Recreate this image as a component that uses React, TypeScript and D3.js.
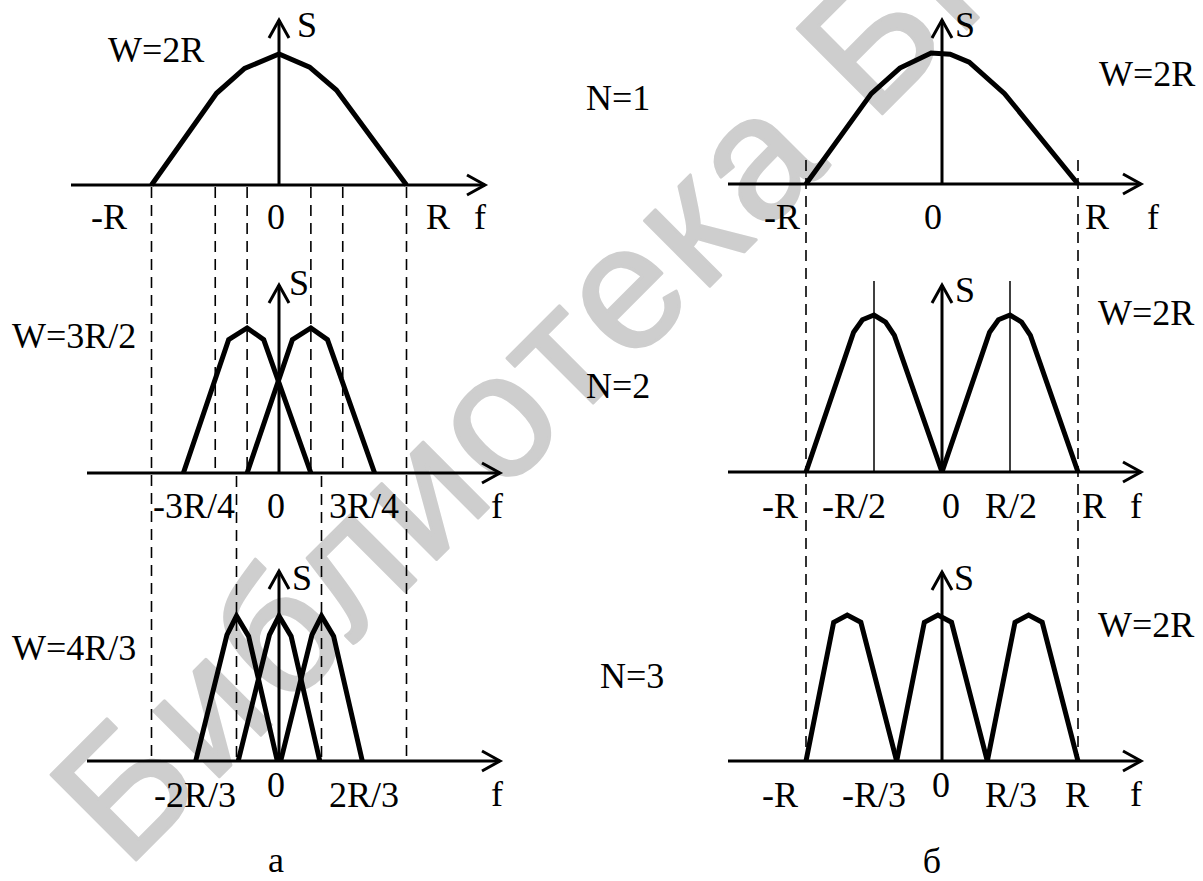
import React from "react";
import * as d3 from "d3";

// Spectra in normalised units: frequency in R, amplitude relative to the peak.
const spectrumW2R: [number, number][] = [
  [-1, 0], [-0.49, 0.7], [-0.27, 0.89], [0, 1], [0.24, 0.9], [0.45, 0.725], [1, 0],
];
const humpW3R2: [number, number][] = [
  [-0.5, 0], [-0.145, 0.92], [0, 1], [0.13, 0.92], [0.5, 0],
];
const centersW3R2 = [-0.25, 0.25];
const humpW4R3: [number, number][] = [
  [-0.32, 0], [-0.075, 0.87], [0, 1], [0.095, 0.86], [0.32, 0],
];
const centersW4R3 = [-1 / 3, 0, 1 / 3];

const spectrumN1: [number, number][] = [
  [-1, 0], [-0.52, 0.69], [-0.31, 0.885], [-0.08, 1], [0.06, 0.99], [0.2, 0.93], [0.46, 0.69], [1, 0],
];
const humpN2: [number, number][] = [
  [-0.5, 0], [-0.15, 0.89], [-0.085, 0.97], [0, 1], [0.085, 0.955], [0.15, 0.87], [0.5, 0],
];
const centersN2 = [-0.5, 0.5];
const humpN3: [number, number][] = [
  [-1 / 3, 0], [-0.13, 0.95], [-0.03, 1], [0.07, 0.95], [1 / 3, 0],
];
const centersN3 = [-2 / 3, 0, 2 / 3];

// Dashed guide positions (in R)
const guidesA12 = [-0.5, -0.25, 0.25, 0.5];
const guidesA23 = [-1 / 3, 1 / 3];
const guidesOuter = [-1, 1];
const markersN2 = [-0.5, 0.5];

// Tick labels
const ticksA1 = ["-R", "0", "R"];
const ticksA2 = ["-3R/4", "0", "3R/4"];
const ticksA3 = ["-2R/3", "0", "2R/3"];
const ticksB1 = ["-R", "0", "R"];
const ticksB2 = ["-R", "-R/2", "0", "R/2", "R"];
const ticksB3 = ["-R", "-R/3", "0", "R/3", "R"];

const FONT = "'Liberation Serif', 'Times New Roman', serif";
const FS = 36;

type Panel = {
  cx: number;
  R: number;
  axisY: number;
  peak: number;
  xFrom: number;
  xTo: number;
  yTip: number;
};

const pA1: Panel = { cx: 279, R: 127.5, axisY: 185, peak: 131, xFrom: 71, xTo: 485, yTip: 20 };
const pA2: Panel = { cx: 279, R: 127.5, axisY: 473, peak: 145, xFrom: 87, xTo: 500, yTip: 285 };
const pA3: Panel = { cx: 279, R: 127.5, axisY: 761, peak: 145, xFrom: 87, xTo: 500, yTip: 571 };
const pB1: Panel = { cx: 942, R: 136, axisY: 184, peak: 131, xFrom: 728, xTo: 1141, yTip: 20 };
const pB2: Panel = { cx: 942, R: 136, axisY: 472, peak: 157, xFrom: 728, xTo: 1141, yTip: 285 };
const pB3: Panel = { cx: 942, R: 136, axisY: 761, peak: 146, xFrom: 728, xTo: 1141, yTip: 572 };

function scales(p: Panel) {
  const x = d3.scaleLinear().domain([-1, 1]).range([p.cx - p.R, p.cx + p.R]);
  const y = d3.scaleLinear().domain([0, 1]).range([p.axisY, p.axisY - p.peak]);
  return { x, y };
}

function curvePath(p: Panel, pts: [number, number][], shift = 0) {
  const { x, y } = scales(p);
  const line = d3
    .line<[number, number]>()
    .x((d) => x(d[0] + shift))
    .y((d) => y(d[1]));
  return line(pts) || "";
}

function Axes({ p }: { p: Panel }) {
  const { x } = scales(p);
  const x0 = x(0);
  const y = p.axisY;
  return (
    <g stroke="#000" strokeWidth={3} fill="none" strokeLinecap="butt">
      <line x1={p.xFrom} y1={y} x2={p.xTo} y2={y} />
      <polyline points={`${p.xTo - 18},${y - 10} ${p.xTo},${y} ${p.xTo - 18},${y + 10}`} />
      <line x1={x0} y1={y} x2={x0} y2={p.yTip} />
      <polyline points={`${x0 - 10},${p.yTip + 18} ${x0},${p.yTip} ${x0 + 10},${p.yTip + 18}`} />
    </g>
  );
}

function Curve({ d }: { d: string }) {
  return <path d={d} fill="none" stroke="#000" strokeWidth={5} strokeLinejoin="miter" />;
}

function Dashed({ p, at, y1, y2 }: { p: Panel; at: number[]; y1: number; y2: number }) {
  const { x } = scales(p);
  return (
    <g stroke="#000" strokeWidth={1.6} strokeDasharray="11,7">
      {at.map((v, i) => (
        <line key={i} x1={x(v)} x2={x(v)} y1={y1} y2={y2} />
      ))}
    </g>
  );
}

function Label({ x, y, t }: { x: number; y: number; t: string }) {
  return (
    <text x={x} y={y} fontFamily={FONT} fontSize={FS} fill="#000">
      {t}
    </text>
  );
}

export default function App() {
  const { x: xB2 } = scales(pB2);
  return (
    <svg
      width={1203}
      height={881}
      viewBox="0 0 1203 881"
      style={{ position: "absolute", left: 0, top: 0, background: "#fff" }}
    >
      <rect width={1203} height={881} fill="#fff" />
      <clipPath id="page">
        <rect width={1203} height={881} />
      </clipPath>
      <g clipPath="url(#page)">
        <text
          transform="translate(126,870) rotate(-45)"
          fontFamily="'Liberation Sans', Arial, sans-serif"
          fontSize={175}
          letterSpacing={5}
          fill="#cecece"
          stroke="#cecece"
          strokeWidth={3}
          strokeLinejoin="round"
        >
          Библиотека БГУИР
        </text>
      </g>

      {/* left column: guides */}
      <Dashed p={pA1} at={guidesOuter} y1={187} y2={761} />
      <Dashed p={pA1} at={guidesA12} y1={187} y2={473} />
      <Dashed p={pA1} at={guidesA23} y1={476} y2={761} />

      {/* right column: guides */}
      <Dashed p={pB1} at={guidesOuter} y1={160} y2={761} />
      <g stroke="#000" strokeWidth={1.5}>
        {markersN2.map((v, i) => (
          <line key={i} x1={xB2(v)} x2={xB2(v)} y1={281} y2={pB2.axisY} />
        ))}
      </g>

      {/* left column */}
      <Axes p={pA1} />
      <Curve d={curvePath(pA1, spectrumW2R)} />
      <Axes p={pA2} />
      {centersW3R2.map((c, i) => (
        <Curve key={i} d={curvePath(pA2, humpW3R2, c)} />
      ))}
      <Axes p={pA3} />
      {centersW4R3.map((c, i) => (
        <Curve key={i} d={curvePath(pA3, humpW4R3, c)} />
      ))}

      {/* right column */}
      <Axes p={pB1} />
      <Curve d={curvePath(pB1, spectrumN1)} />
      <Axes p={pB2} />
      {centersN2.map((c, i) => (
        <Curve key={i} d={curvePath(pB2, humpN2, c)} />
      ))}
      <Axes p={pB3} />
      {centersN3.map((c, i) => (
        <Curve key={i} d={curvePath(pB3, humpN3, c)} />
      ))}

      {/* labels, left */}
      <Label x={108} y={62} t="W=2R" />
      <Label x={297} y={37} t="S" />
      <Label x={91} y={229} t={ticksA1[0]} />
      <Label x={267} y={229} t={ticksA1[1]} />
      <Label x={426} y={229} t={ticksA1[2]} />
      <Label x={474} y={229} t="f" />

      <Label x={12} y={348} t="W=3R/2" />
      <Label x={289} y={295} t="S" />
      <Label x={153} y={518} t={ticksA2[0]} />
      <Label x={267} y={518} t={ticksA2[1]} />
      <Label x={329} y={518} t={ticksA2[2]} />
      <Label x={491} y={518} t="f" />

      <Label x={12} y={660} t="W=4R/3" />
      <Label x={292} y={590} t="S" />
      <Label x={154} y={807} t={ticksA3[0]} />
      <Label x={267} y={797} t={ticksA3[1]} />
      <Label x={329} y={807} t={ticksA3[2]} />
      <Label x={491} y={806} t="f" />
      <text x={276} y={872} textAnchor="middle" fontFamily={FONT} fontSize={FS}>
        а
      </text>

      {/* labels, right */}
      <Label x={586} y={110} t="N=1" />
      <Label x={1099} y={86} t="W=2R" />
      <Label x={955} y={37} t="S" />
      <Label x={764} y={229} t={ticksB1[0]} />
      <Label x={924} y={229} t={ticksB1[1]} />
      <Label x={1085} y={229} t={ticksB1[2]} />
      <Label x={1147} y={229} t="f" />

      <Label x={586} y={398} t="N=2" />
      <Label x={1098} y={325} t="W=2R" />
      <Label x={955} y={302} t="S" />
      <Label x={762} y={518} t={ticksB2[0]} />
      <Label x={822} y={518} t={ticksB2[1]} />
      <Label x={942} y={518} t={ticksB2[2]} />
      <Label x={985} y={518} t={ticksB2[3]} />
      <Label x={1082} y={518} t={ticksB2[4]} />
      <Label x={1130} y={518} t="f" />

      <Label x={600} y={688} t="N=3" />
      <Label x={1098} y={637} t="W=2R" />
      <Label x={954} y={590} t="S" />
      <Label x={762} y={807} t={ticksB3[0]} />
      <Label x={842} y={807} t={ticksB3[1]} />
      <Label x={932} y={797} t={ticksB3[2]} />
      <Label x={985} y={807} t={ticksB3[3]} />
      <Label x={1065} y={807} t={ticksB3[4]} />
      <Label x={1130} y={806} t="f" />
      <text x={932} y={873} textAnchor="middle" fontFamily={FONT} fontSize={FS}>
        б
      </text>
    </svg>
  );
}
